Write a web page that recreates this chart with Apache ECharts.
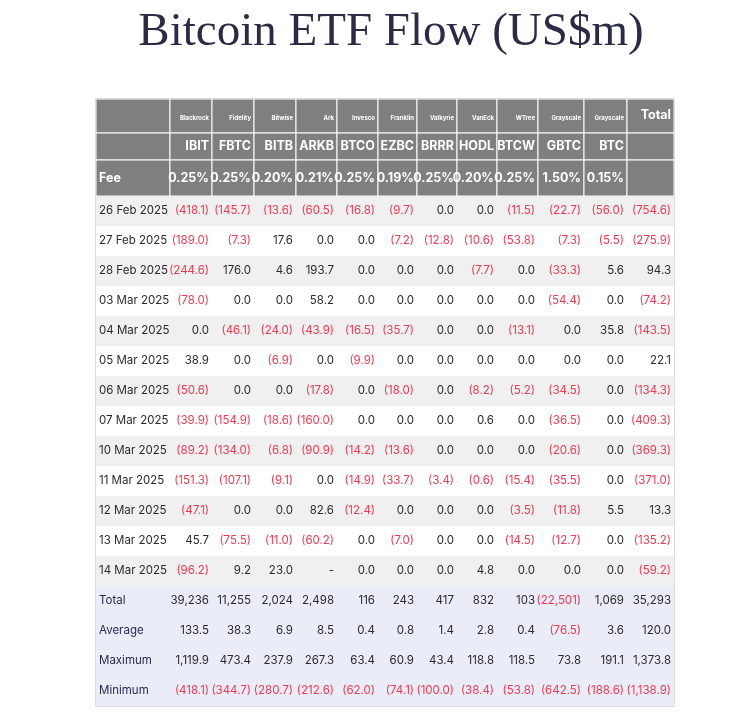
<!DOCTYPE html>
<html>
<head>
<meta charset="utf-8">
<script src="https://cdn.jsdelivr.net/npm/echarts@6/dist/echarts.min.js"></script>
<style>html,body{margin:0;padding:0;background:#fff}#main{width:744px;height:724px}</style>
</head>
<body>
<div id="main"></div>
<script>
// 表格数据
var providers = ['Blackrock','Fidelity','Bitwise','Ark','Invesco','Franklin','Valkyrie','VanEck','WTree','Grayscale','Grayscale'];
var tickers = ['IBIT','FBTC','BITB','ARKB','BTCO','EZBC','BRRR','HODL','BTCW','GBTC','BTC'];
var fees = ['0.25%','0.25%','0.20%','0.21%','0.25%','0.19%','0.25%','0.20%','0.25%','1.50%','0.15%'];
var dates = ['26 Feb 2025','27 Feb 2025','28 Feb 2025','03 Mar 2025','04 Mar 2025','05 Mar 2025','06 Mar 2025','07 Mar 2025','10 Mar 2025','11 Mar 2025','12 Mar 2025','13 Mar 2025','14 Mar 2025'];
// 每行: 11只ETF + Total
var flows = [
  [-418.1,-145.7,-13.6,-60.5,-16.8,-9.7,0,0,-11.5,-22.7,-56.0,-754.6],
  [-189.0,-7.3,17.6,0,0,-7.2,-12.8,-10.6,-53.8,-7.3,-5.5,-275.9],
  [-244.6,176.0,4.6,193.7,0,0,0,-7.7,0,-33.3,5.6,94.3],
  [-78.0,0,0,58.2,0,0,0,0,0,-54.4,0,-74.2],
  [0,-46.1,-24.0,-43.9,-16.5,-35.7,0,0,-13.1,0,35.8,-143.5],
  [38.9,0,-6.9,0,-9.9,0,0,0,0,0,0,22.1],
  [-50.6,0,0,-17.8,0,-18.0,0,-8.2,-5.2,-34.5,0,-134.3],
  [-39.9,-154.9,-18.6,-160.0,0,0,0,0.6,0,-36.5,0,-409.3],
  [-89.2,-134.0,-6.8,-90.9,-14.2,-13.6,0,0,0,-20.6,0,-369.3],
  [-151.3,-107.1,-9.1,0,-14.9,-33.7,-3.4,-0.6,-15.4,-35.5,0,-371.0],
  [-47.1,0,0,82.6,-12.4,0,0,0,-3.5,-11.8,5.5,13.3],
  [45.7,-75.5,-11.0,-60.2,0,-7.0,0,0,-14.5,-12.7,0,-135.2],
  [-96.2,9.2,23.0,null,0,0,0,4.8,0,0,0,-59.2]
];
var summaryNames = ['Total','Average','Maximum','Minimum'];
var totals = [39236,11255,2024,2498,116,243,417,832,103,-22501,1069,35293];
var averages = [133.5,38.3,6.9,8.5,0.4,0.8,1.4,2.8,0.4,-76.5,3.6,120.0];
var maximums = [1119.9,473.4,237.9,267.3,63.4,60.9,43.4,118.8,118.5,73.8,191.1,1373.8];
var minimums = [-418.1,-344.7,-280.7,-212.6,-62.0,-74.1,-100.0,-38.4,-53.8,-642.5,-188.6,-1138.9];

// 版式
var colEdges = [0,74,116,158,200,241,282,321,361,401,442,488,531,578];
var rowEdges = [0,34,61,97];
for (var i = 1; i <= dates.length + summaryNames.length; i++) rowEdges.push(97 + i * 30);
var RED = '#f2384f', DARK = '#2b2b2b', HEAD = '#7f7f7f';

function fmt(v, dec) {
  if (v === null) return '-';
  var s = Math.abs(v).toLocaleString('en-US', {minimumFractionDigits: dec, maximumFractionDigits: dec});
  return v < 0 ? '(' + s + ')' : s;
}

var cells = [];
function add(c, r, text, kind, bg, color) { cells.push([c, r, text, kind, bg, color]); }
// 表头
for (var c = 0; c <= 12; c++) {
  add(c, 0, c >= 1 && c <= 11 ? providers[c - 1] : (c === 12 ? 'Total' : ''), c === 12 ? 'headBig' : 'headSmall', HEAD, '#fff');
  add(c, 1, c >= 1 && c <= 11 ? tickers[c - 1] : '', 'headBig', HEAD, '#fff');
  add(c, 2, c === 0 ? 'Fee' : (c <= 11 ? fees[c - 1] : ''), 'headBig', HEAD, '#fff');
}
dates.forEach(function (d, i) {
  var bg = i % 2 === 0 ? '#f0f0f0' : '#ffffff';
  add(0, 3 + i, d, 'label', bg, DARK);
  flows[i].forEach(function (v, j) {
    add(j + 1, 3 + i, fmt(v, 1), 'num', bg, v !== null && v < 0 ? RED : DARK);
  });
});
[totals, averages, maximums, minimums].forEach(function (arr, k) {
  var r = 3 + dates.length + k;
  add(0, r, summaryNames[k], 'label', '#eaedf8', '#2a2a50');
  arr.forEach(function (v, j) {
    add(j + 1, r, fmt(v, k === 0 ? 0 : 1), 'num', '#eaedf8', v < 0 ? RED : DARK);
  });
});

var chart = echarts.init(document.getElementById('main'));
chart.setOption({
  animation: false,
  title: {
    text: 'Bitcoin ETF Flow (US$m)', left: 386, textAlign: 'center', top: 4,
    textStyle: {fontFamily: 'Liberation Serif', fontSize: 47, fontWeight: 'normal', color: '#2b2b45'}
  },
  grid: {left: 96, right: 70, top: 99, bottom: 18},
  xAxis: {type: 'value', min: 0, max: 578, show: false},
  yAxis: {type: 'value', min: 0, max: rowEdges[rowEdges.length - 1], inverse: true, show: false},
  series: [{
    type: 'custom',
    data: cells,
    renderItem: function (params, api) {
      var c = api.value(0), r = api.value(1);
      var d = cells[params.dataIndex];
      var p0 = api.coord([colEdges[c], rowEdges[r]]);
      var p1 = api.coord([colEdges[c + 1], rowEdges[r + 1]]);
      var kind = d[3];
      var isHead = r < 3;
      var left = c === 0;
      var size = kind === 'headSmall' ? 6 : (kind === 'headBig' ? 12.5 : 11.5);
      var ty = (p0[1] + p1[1]) / 2;
      if (kind === 'headSmall') ty = p0[1] + 19;
      if (kind === 'headBig' && r === 0) ty = p0[1] + 16;
      return {
        type: 'group',
        children: [{
          type: 'rect',
          shape: {x: p0[0], y: p0[1], width: p1[0] - p0[0], height: p1[1] - p0[1]},
          style: {fill: d[4], stroke: isHead ? '#ffffff' : null, lineWidth: isHead ? 1 : 0}
        }, {
          type: 'text',
          x: left ? p0[0] + 3 : p1[0] - 3,
          y: ty,
          style: {
            text: d[2], fill: d[5], align: left ? 'left' : 'right', verticalAlign: 'middle',
            fontFamily: 'Inter', fontSize: size, fontWeight: isHead ? 'bold' : 'normal'
          }
        }]
      };
    }
  }],
  graphic: [{
    type: 'rect', silent: true, z: 100,
    shape: {x: 95.5, y: 98.5, width: 579, height: 608},
    style: {fill: null, stroke: '#dddddd', lineWidth: 1}
  }]
});
</script>
</body>
</html>
